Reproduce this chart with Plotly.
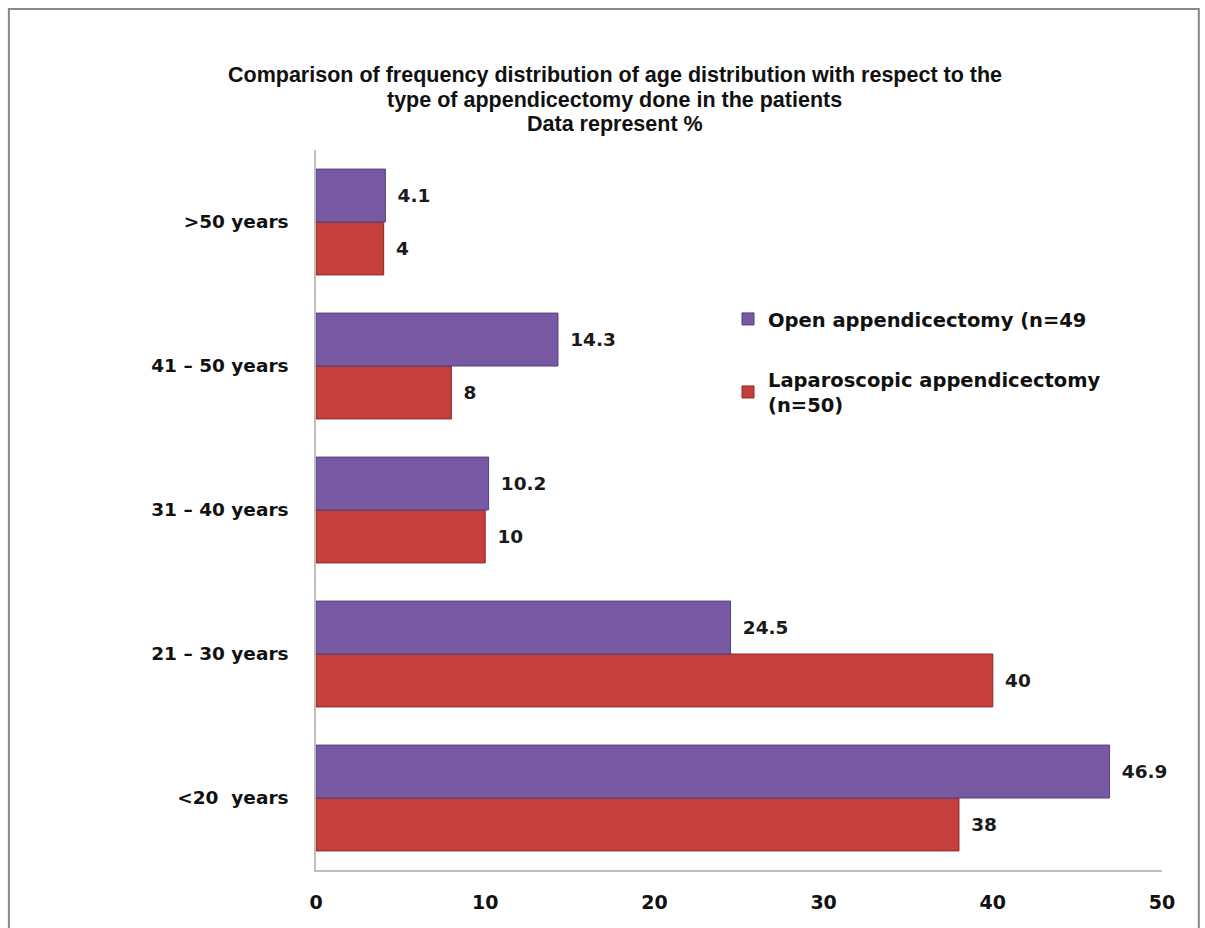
import plotly.graph_objects as go

categories = ["<20  years", "21 – 30 years", "31 – 40 years", "41 – 50 years", ">50 years"]
open_vals = [46.9, 24.5, 10.2, 14.3, 4.1]
lap_vals = [38, 40, 10, 8, 4]
open_name = "Open appendicectomy (n=49"
lap_name = "Laparoscopic appendicectomy<br>(n=50)"
x_ticks = [0, 10, 20, 30, 40, 50]
title_lines = [
    "Comparison of frequency distribution of age distribution with respect to the",
    "type of appendicectomy done in the patients",
    "Data represent %",
]

BOLD = "DejaVu Sans"
TITLEF = "Liberation Sans, Arial"

fig = go.Figure()
fig.add_trace(go.Bar(
    y=categories, x=lap_vals, orientation="h", name=lap_name,
    marker=dict(color="#C73F3C", line=dict(color="#8A2927", width=1)),
    text=[f"\u2002{v:g}" for v in lap_vals], textposition="outside",
    textfont=dict(family=BOLD, size=18.5, color="#1a1a1a", weight="bold"),
    cliponaxis=False, legendrank=2, legendgroup="lap",
))
fig.add_trace(go.Bar(
    y=categories, x=open_vals, orientation="h", name=open_name,
    marker=dict(color="#7859A4", line=dict(color="#553E7C", width=1)),
    text=[f"\u2002{v:g}" for v in open_vals], textposition="outside",
    textfont=dict(family=BOLD, size=18.5, color="#1a1a1a", weight="bold"),
    cliponaxis=False, legendrank=1, legendgroup="open",
))

# title as three separately placed lines (tighter line spacing)
title_y = [1.1042, 1.0694, 1.0361]
annotations = [
    dict(text=f"<b>{t}</b>", xref="paper", yref="paper", x=0.3534, y=yy,
         xanchor="center", yanchor="middle", showarrow=False,
         font=dict(family=TITLEF, size=21.5, color="#111"))
    for t, yy in zip(title_lines, title_y)
]

fig.update_layout(
    width=1205, height=928,
    margin=dict(l=316, r=43, t=150, b=58),
    paper_bgcolor="white", plot_bgcolor="white",
    barmode="group", bargap=0.265, bargroupgap=0,
    annotations=annotations,
    xaxis=dict(
        range=[0, 50], tickvals=x_ticks, showgrid=False, zeroline=False,
        showline=True, linecolor="#BFBFBF", linewidth=1.5, ticks="",
        ticklabelstandoff=14,
        tickfont=dict(family=BOLD, size=19, color="#111", weight="bold"),
    ),
    yaxis=dict(
        showgrid=False, zeroline=False, showline=True, linecolor="#BFBFBF",
        linewidth=1.5, ticks="", ticklabelstandoff=22,
        tickfont=dict(family=BOLD, size=18.5, color="#111", weight="bold"),
    ),
    legend=dict(
        x=0.487, y=0.792, xanchor="left", yanchor="top",
        traceorder="grouped", tracegroupgap=32,
        font=dict(family=BOLD, size=19.5, color="#111", weight="bold"),
        bgcolor="rgba(0,0,0,0)",
    ),
    showlegend=True,
    shapes=[dict(
        type="rect", xref="paper", yref="paper",
        x0=-0.363, x1=1.0435, y0=-0.2, y1=1.196,
        line=dict(color="#888888", width=2), fillcolor="rgba(0,0,0,0)",
        layer="below",
    )],
)

fig.write_html("out.html")
